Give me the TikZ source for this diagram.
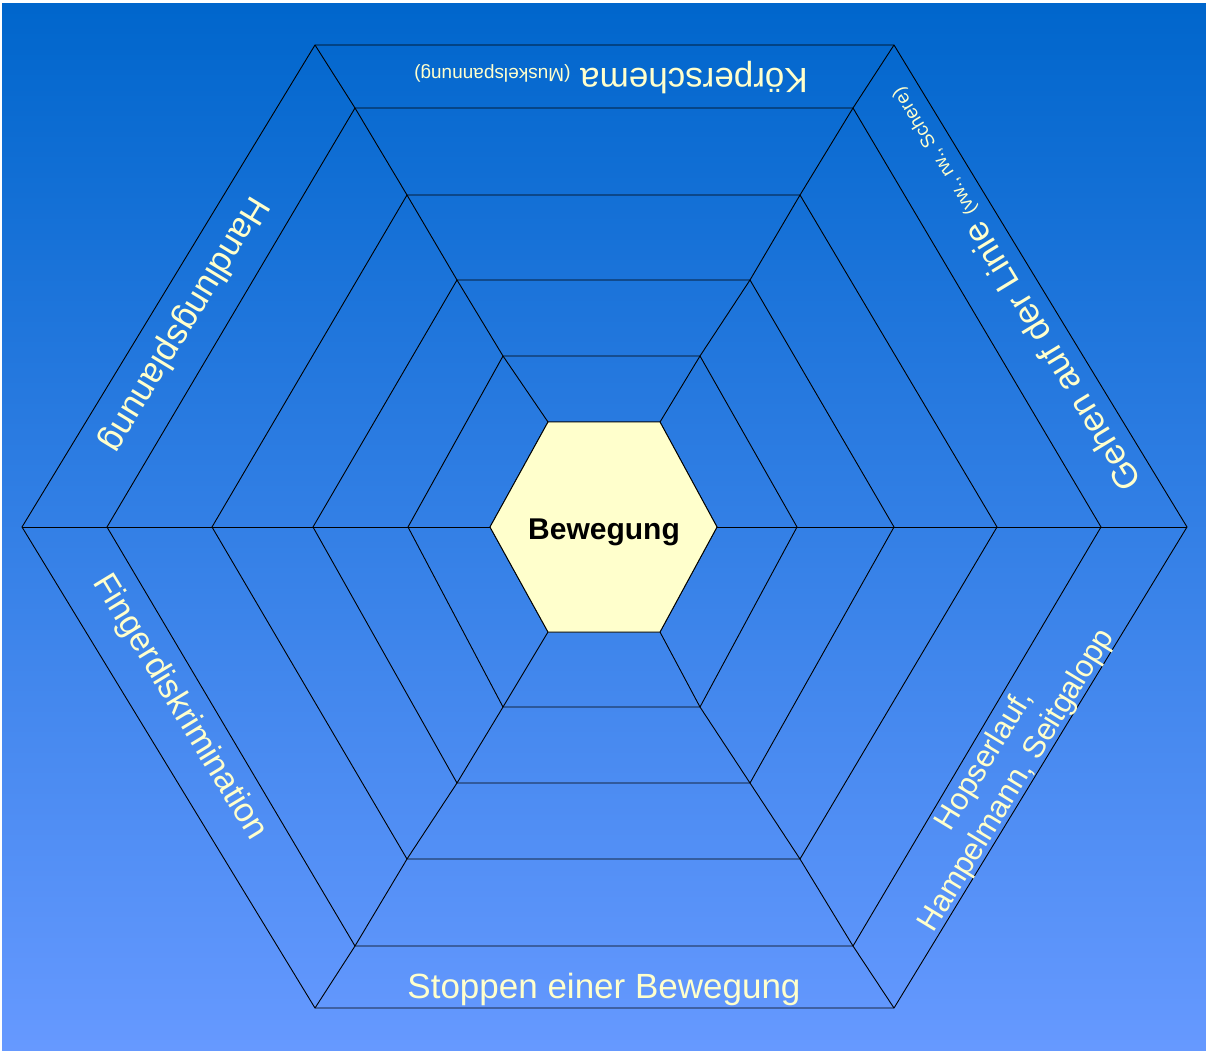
\documentclass[tikz,border=0pt]{standalone}
\usepackage{fontspec}
\setmainfont{Liberation Sans}
\definecolor{bgtop}{HTML}{0066CC}
\definecolor{bgbottom}{HTML}{6699FF}
\definecolor{paleyellow}{HTML}{FFFFCC}
\begin{document}
\begin{tikzpicture} [x=1pt,y=-1pt,
		ring/.style={black,line width=0.9pt,line join=miter},
		band/.style={text=paleyellow,anchor=base,inner sep=0pt,font=\fontsize{35}{42}\selectfont}]
			\useasboundingbox (0,0) rectangle (1206,1050);
			\fill[white] (0,0) rectangle (1206,1050);
			\shade[top color=bgtop,bottom color=bgbottom] (2,3) rectangle (1206,1050);
			
			\foreach \i/\xl/\xa/\xb/\xr/\yt/\yb in {1/22/315/894/1187/45/1008,2/107/355/853/1101/108/946,3/212/407/800/997/195/859,4/313/457/750/894/280/783,5/408/503/700/797/356/707,6/490/548/660/717/422/632}
			{
			\coordinate (h\i-1) at (\xl,527);
			\coordinate (h\i-2) at (\xa,\yt);
			\coordinate (h\i-3) at (\xb,\yt);
			\coordinate (h\i-4) at (\xr,527);
			\coordinate (h\i-5) at (\xb,\yb);
			\coordinate (h\i-6) at (\xa,\yb);
			\draw[ring] (h\i-1) -- (h\i-2) -- (h\i-3) -- (h\i-4) -- (h\i-5) -- (h\i-6) -- cycle;
			}
			
			\foreach \k in {1,...,6}
			\draw[ring] (h1-\k) -- (h2-\k) -- (h3-\k) -- (h4-\k) -- (h5-\k) -- (h6-\k);
			
			\draw[ring,fill=paleyellow] (h6-1) -- (h6-2) -- (h6-3) -- (h6-4) -- (h6-5) -- (h6-6) -- cycle;
			\node[anchor=base,inner sep=0pt,font=\fontsize{30}{36}\selectfont\bfseries] (bewegung) at (604,539) {Bewegung};
			
			\node[band,rotate=180] (koerper) at (611,68) {K\"orperschema {\fontsize{19}{23}\selectfont (Muskelspannung)}};
			\node[band,rotate=121.3] (gehen) at (1022,284) {Gehen auf der Linie {\fontsize{19}{23}\selectfont (vw., rw., Schere)}};
			\node[band,rotate=58.7,font=\fontsize{31}{37}\selectfont] (hopser) at (992,765) {Hopserlauf,};
			\node[band,rotate=58.7,font=\fontsize{31}{37}\selectfont] (hampel) at (1024,785) {Hampelmann, Seitgalopp};
			\node[band] (stoppen) at (604,998) {Stoppen einer Bewegung};
			\node[band,rotate=-58.7,font=\fontsize{34}{41}\selectfont] (finger) at (172,712) {Fingerdiskrimination};
			\node[band,rotate=-121.3] (handlung) at (176,319) {Handlungsplanung};
			\end{tikzpicture}
\end{document}
